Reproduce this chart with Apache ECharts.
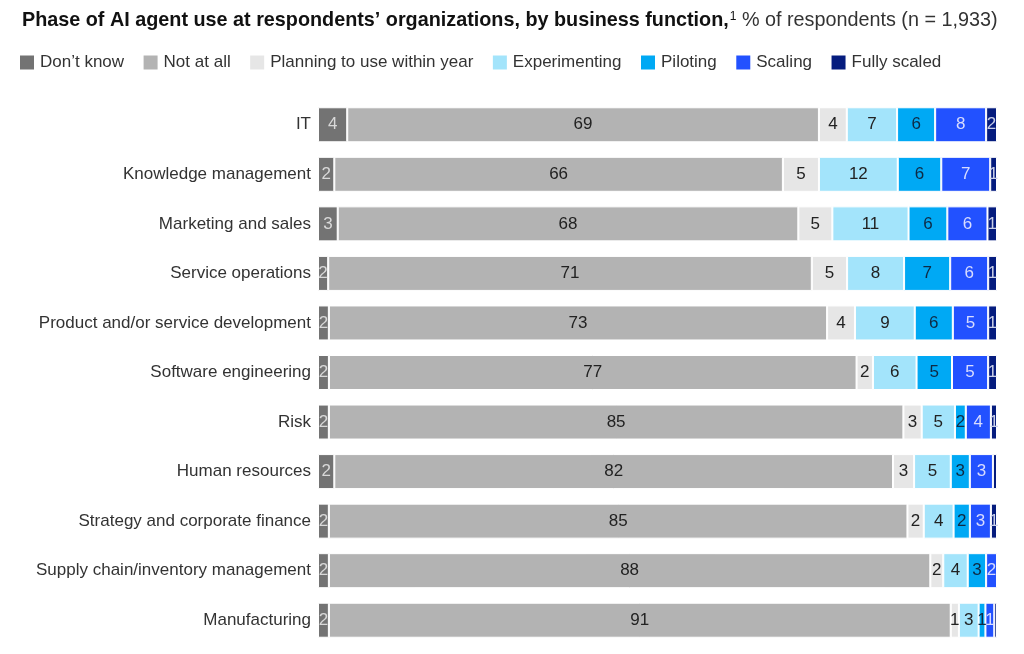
<!DOCTYPE html>
<html>
<head>
<meta charset="utf-8">
<script src="https://cdn.jsdelivr.net/npm/echarts@6/dist/echarts.min.js"></script>
<style>html,body{margin:0;padding:0;background:#fff}#c{width:1024px;height:654px}</style>
</head>
<body>
<div id="c"></div>
<script>
const categories = ['IT','Knowledge management','Marketing and sales','Service operations','Product and/or service development','Software engineering','Risk','Human resources','Strategy and corporate finance','Supply chain/inventory management','Manufacturing'];
const seriesNames = ['Don\u2019t know','Not at all','Planning to use within year','Experimenting','Piloting','Scaling','Fully scaled'];
const dontKnow     = [4.3, 2.4, 2.9, 1.5, 1.6, 1.6, 1.6, 2.4, 1.6, 1.6, 1.6];
const notAtAll     = [69.4, 66.0, 67.7, 71.3, 73.3, 77.4, 84.7, 82.2, 85.3, 88.4, 91.4];
const planning     = [4.1, 5.3, 5.0, 5.2, 4.1, 2.4, 2.7, 3.1, 2.4, 1.9, 1.2];
const experimenting= [7.4, 11.6, 11.2, 8.4, 8.8, 6.4, 4.9, 5.4, 4.4, 3.6, 2.9];
const piloting     = [5.6, 6.4, 5.7, 6.8, 5.6, 5.2, 1.6, 2.8, 2.4, 2.7, 1.0];
const scaling      = [7.5, 7.2, 5.9, 5.6, 5.2, 5.3, 3.7, 3.4, 3.1, 1.6, 1.3];
const fullyScaled  = [1.6, 1.0, 1.4, 1.3, 1.3, 1.3, 0.9, 0.6, 0.9, 0.0, 0.4];

const seriesData = [dontKnow, notAtAll, planning, experimenting, piloting, scaling, fullyScaled];
const colors = ['#737373','#b3b3b3','#e6e6e6','#a3e4fb','#00a9f4','#2251ff','#051c7e'];
const labelColors = ['#d9d9d9','#222222','#222222','#222222','#0e2a44','#d8dcff','#c9cfe8'];

const totals = categories.map((c, i) => seriesData.reduce((s, arr) => s + arr[i], 0));

const chart = echarts.init(document.getElementById('c'));
chart.setOption({
  animation: false,
  color: colors,
  title: {
    left: 17, top: 6,
    text: '{b|Phase of AI agent use at respondents\u2019 organizations, by business function,}{s|1}{r| % of respondents (n = 1,933)}',
    textStyle: {
      rich: {
        b: {fontFamily: 'Liberation Sans', fontWeight: 'bold', fontSize: 19.8, color: '#111'},
        s: {fontFamily: 'Liberation Sans', fontWeight: 'normal', fontSize: 12, color: '#111', verticalAlign: 'top', padding: [0,0,8,1]},
        r: {fontFamily: 'Liberation Sans', fontWeight: 'normal', fontSize: 19.8, color: '#333'}
      }
    }
  },
  legend: {
    left: 15, top: 49,
    itemWidth: 14, itemHeight: 14, itemGap: 19.5,
    icon: 'rect',
    itemStyle: {borderWidth: 0},
    textStyle: {fontFamily: 'Liberation Sans', fontSize: 17, color: '#333', padding: [0,0,0,1]},
    data: seriesNames
  },
  grid: {left: 318, right: 27, top: 100, bottom: 9, containLabel: false},
  xAxis: {type: 'value', min: 0, max: 100, show: false},
  yAxis: {
    type: 'category', data: categories, inverse: true,
    axisLine: {show: false}, axisTick: {show: false},
    axisLabel: {fontFamily: 'Liberation Sans', fontSize: 17, color: '#333', margin: 7}
  },
  series: seriesNames.map((name, k) => ({
    name, type: 'bar', stack: 'total', barWidth: 35,
    itemStyle: {borderColor: '#fff', borderWidth: 1},
    label: {
      show: true, position: 'inside',
      fontFamily: 'Liberation Sans', fontSize: 17, color: labelColors[k],
      formatter: p => p.data.raw >= 0.75 ? String(Math.round(p.data.raw)) : ''
    },
    data: seriesData[k].map((v, i) => ({value: v / totals[i] * 100, raw: v}))
  }))
});
</script>
</body>
</html>
